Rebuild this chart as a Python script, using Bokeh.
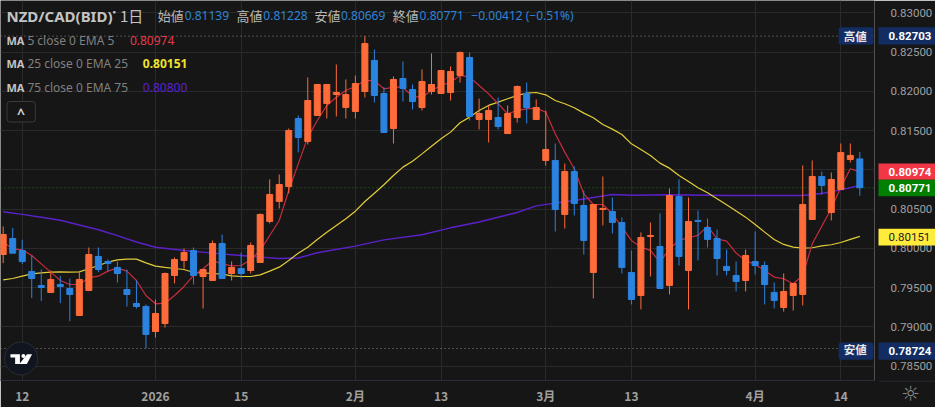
from bokeh.plotting import figure
from bokeh.layouts import column
from bokeh.core.properties import value
from bokeh.models import (ColumnDataSource, FixedTicker, Span, Label, BoxAnnotation, NumeralTickFormatter)
from bokeh.embed import file_html
from bokeh.resources import INLINE

opens = [.79921,.80125,.79972,.79705,.79526,.79437,.79539,.79488,.79144,.79463,.79896,.79832,.79756,.79475,.79297,.79259,.7894,.79042,.79654,.79845,.79972,.79641,.7959,.80061,.79679,.79743,.79717,.79819,.80342,.80597,
 .80787,.81654,.81361,.81692,.81845,.81959,.81794,.81743,.81998,.82393,.81972,.81526,.82163,.82023,.81794,.81998,.81972,.81985,.82202,.82431,.81641,.81641,.81666,.81462,.81666,.81972,.81641,.81119,.81119,.80431,
 .80978,.80546,.79692,.80494,.80469,.80329,.79692,.79399,.80151,.80023,.79527,.8066,.79718,.80355,.80265,.80125,.79769,.79654,.7959,.79832,.79781,.79438,.79246,.79399,.79412,.80367,.80915,.80456,.80749,.81132,.81139]
highs = [.80278,.80261,.80108,.79908,.7973,.79717,.79649,.79615,.79696,.8001,.8001,.79857,.79832,.7973,.7959,.79284,.79348,.79692,.79883,.79998,.8001,.7973,.80099,.80176,.79832,.79947,.80074,.80443,.80877,.8094,
 .81526,.81692,.82176,.82087,.82087,.82342,.82151,.82202,.82703,.82533,.82053,.82189,.8238,.82087,.82278,.82482,.82265,.82316,.82507,.82494,.81908,.81819,.81921,.81819,.82074,.82112,.81896,.81756,.81335,.8108,
 .81042,.80737,.80558,.80915,.80647,.80393,.79972,.80202,.80329,.80444,.80762,.80877,.80647,.80482,.8038,.8024,.79985,.79832,.79985,.80214,.79832,.79565,.7968,.79552,.81055,.81119,.80978,.80966,.81335,.81335,.81228]
lows = [.79811,.79938,.79798,.79365,.79327,.79437,.79301,.79072,.79144,.79454,.79696,.79709,.79564,.79259,.79233,.78724,.78864,.78991,.79552,.79743,.79539,.79233,.7959,.79615,.7959,.79615,.79679,.79819,.80316,.80507,
 .80698,.81221,.81323,.81692,.81654,.8168,.81654,.81654,.81921,.81858,.81475,.81335,.8187,.81768,.81756,.81959,.81972,.81883,.82112,.81628,.81514,.81348,.81514,.81462,.81602,.8159,.81641,.81055,.80214,.80252,
 .80418,.79921,.79361,.80291,.80189,.79679,.79285,.79221,.79641,.79488,.79412,.79781,.79221,.79845,.8001,.79654,.79654,.7945,.7945,.79667,.79285,.79234,.79195,.79208,.79272,.80367,.80686,.80355,.80749,.81093,.80669]
closes = [.80176,.79938,.79832,.79615,.79501,.79603,.79514,.79412,.79603,.79921,.7973,.79807,.79679,.79412,.79259,.78902,.7917,.79679,.79857,.79947,.79654,.7973,.80061,.79615,.79756,.79679,.80036,.80431,.80686,.80813,
 .81501,.81412,.81883,.82087,.82087,.81985,.81959,.82099,.82609,.81947,.81475,.82151,.82035,.8187,.82125,.82087,.82265,.82252,.82494,.8168,.81717,.81756,.81551,.81717,.82061,.81794,.81794,.81259,.80494,.80978,
 .80571,.801,.80558,.80507,.80329,.79756,.79348,.80138,.80163,.79488,.80673,.79896,.80342,.80342,.80113,.7987,.79718,.79578,.79909,.79781,.79539,.79336,.7945,.79552,.80558,.80915,.80801,.80877,.81221,.81183,.80771]
ema5 = [.80078,.79993,.79981,.79908,.79802,.79696,.7959,.79539,.79539,.79624,.79645,.79709,.79747,.79709,.7959,.79399,.79293,.79301,.79399,.79514,.79654,.79739,.79845,.79802,.79777,.79781,.79853,.79972,.80163,.80354,
 .80737,.81076,.81416,.81628,.81819,.81925,.8201,.82061,.82137,.82137,.82031,.82052,.82052,.81933,.81925,.8201,.82074,.82116,.82202,.8218,.82074,.81967,.81841,.81713,.81756,.81777,.81785,.81734,.81459,.81225,
 .81013,.80694,.80558,.80558,.8044,.8027,.801,.80015,.79973,.79824,.79994,.801,.80134,.80164,.80283,.80121,.80091,.79939,.79845,.79794,.79718,.79633,.79612,.79548,.79654,.80057,.8028,.80503,.80779,.81013,.80974]
ema25 = [.79598,.79615,.79645,.79675,.79688,.79696,.797,.79696,.797,.79739,.79781,.79823,.79853,.79862,.79862,.79815,.79773,.79756,.79743,.7973,.79692,.79688,.79679,.79671,.79649,.79641,.79641,.79662,.79709,.7976,
 .79845,.79938,.80014,.80112,.80205,.8029,.80376,.80473,.80596,.80702,.80809,.80928,.81034,.8111,.81203,.81301,.81395,.8148,.81599,.81671,.81755,.8182,.81862,.81905,.81947,.81977,.81985,.81955,.81883,.81841,
 .8179,.81722,.81662,.81578,.81518,.8145,.81331,.81259,.81183,.81085,.81021,.80928,.80851,.80771,.80707,.80631,.80554,.80474,.80397,.80304,.80206,.80113,.80049,.80015,.80002,.80007,.8003,.80045,.80074,.80113,.80151]
ema75_idx = [0,2,4,6,8,10,12,14,16,19,22,25,27,29,31,33,37,40,44,47,50,52,54,56,58,60,62,64,66,70,76,82,84,86,88,90]
ema75 = [.80465,.80432,.80395,.80358,.80297,.80236,.80161,.8008,.80014,.79972,.79938,.79908,.79887,.7987,.79876,.79943,.80027,.80108,.80172,.80261,.80335,.80396,.80456,.80541,.80575,.80609,.80647,.80685,.80676,.80682,.80673,.80673,.80673,.80698,.80745,.808]
price_ticks = [.785,.79,.795,.80,.805,.81,.815,.82,.825,.83]
date_ticks = {2:"12",16:"2026",25:"15",37:"2月",46:"13",57:"3月",66:"13",79:"4月",88:"14"}
tag_prices = ["0.82703","0.78724","0.80974","0.80771"]
tag_colors = ["#132d63","#132d63","#f23645","#008000","#ffeb3b"]

BG="#161616"; GRID="#2a2a2a"; UP="#ff6b39"; DOWN="#2b83e0"
xl,xr=-0.2824,91.54; yt,yb=.831567,.783159
X=lambda px: xl+px/878*(xr-xl)
Y=lambda py: yt-py/380*(yt-yb)

p=figure(width=935,height=407,x_range=(xl,xr),y_range=(yb,yt),output_backend="svg",toolbar_location=None,
         y_axis_location="right",background_fill_color=BG,border_fill_color=BG,outline_line_color=None,
         min_border_left=0,min_border_top=0,min_border_right=57,min_border_bottom=27)
p.frame_align=False

ya=p.yaxis[0]; ya.ticker=FixedTicker(ticks=price_ticks); ya.formatter=NumeralTickFormatter(format="0.00000")
ya.axis_line_color=None; ya.major_tick_line_color=None; ya.minor_tick_line_color=None
ya.major_label_text_color="#a0a0a0"; ya.major_label_text_font="Roboto"; ya.major_label_text_font_size="11.5px"; ya.major_label_standoff=10
xa=p.xaxis[0]; xa.ticker=FixedTicker(ticks=list(date_ticks)); xa.major_label_overrides=dict(date_ticks)
xa.axis_line_color="#2a2e39"; xa.major_tick_line_color=None; xa.minor_tick_line_color=None
xa.major_label_text_color="#a0a0a0"; xa.major_label_text_font="Noto Sans CJK JP"; xa.major_label_text_font_size="12px"; xa.major_label_text_font_style="bold"; xa.major_label_standoff=0
p.xgrid.ticker=FixedTicker(ticks=list(date_ticks)); p.ygrid.ticker=FixedTicker(ticks=price_ticks)
p.xgrid.grid_line_color=GRID; p.ygrid.grid_line_color=GRID

for loc,col in [(.82703,"#8c8c8c"),(.78724,"#8c8c8c"),(closes[-1],"#0c7c0c")]:
    p.add_layout(Span(location=loc,dimension="width",line_color=col,line_dash="1 3",line_width=1,level="underlay"))

xs=list(range(len(closes)))
p.line(ema75_idx,ema75,line_color="#5b21c9",line_width=1.4)
p.line(xs,ema25,line_color="#e2cd3a",line_width=1.2)
p.line(xs,ema5,line_color="#c92c3e",line_width=1.2)

colors=[UP if c>=o else DOWN for o,c in zip(opens,closes)]
src=ColumnDataSource(dict(x=xs,o=opens,h=highs,l=lows,c=closes,col=colors,
    top=[max(a,b) for a,b in zip(opens,closes)],bot=[min(a,b) for a,b in zip(opens,closes)]))
p.segment("x","h","x","l",source=src,line_color="col",line_width=1)
p.vbar(x="x",top="top",bottom="bot",width=0.63,source=src,fill_color="col",line_color="col",line_width=1)

def box(l,r,t,b,fill,line=None,radius=0):
    p.add_layout(BoxAnnotation(left=X(l),right=X(r),top=Y(t),bottom=Y(b),fill_color=fill,fill_alpha=1 if fill else 0,
                 line_color=line,line_alpha=1 if line else 0,border_radius=radius))
def lab(px,py,text,color,font="Noto Sans",size="12px",style="normal",align="left"):
    p.add_layout(Label(x=X(px),y=Y(py),text=text,text_color=color,text_font=font,text_font_size=size,
                 text_font_style=style,text_baseline="middle",text_align=align))

KJ="Noto Sans CJK JP"; VAL="#2d84d6"; HD="#c4c4c4"
lab(6,15,"NZD/CAD(BID)",HD,size="15px",style="bold")
lab(111,11,"･",HD,font=KJ,size="13px",style="bold")
lab(120,15,"1日",HD,font=KJ,size="15px")
header=[(158,"始値",185,"0.81139"),(237,"高値",264,"0.81228"),(315.5,"安値",342,"0.80669"),(394,"終値",421,"0.80771")]
for kx,kt,vx,vt in header:
    lab(kx,15,kt,"#b8b8b8",font=KJ,size="13px"); lab(vx,15,vt,VAL)
lab(473,15,"−0.00412 (−0.51%)",VAL)
for py,name,vx,vt,col,st in [(40,"5 close 0 EMA 5",130,"0.80974","#e23a4a","normal"),(63,"25 close 0 EMA 25",143,"0.80151","#f2e22e","bold"),(87,"75 close 0 EMA 75",143,"0.80800","#5a22d6","normal")]:
    lab(6,py,"MA","#c4c4c4",size="11px",style="bold"); lab(27,py,name,"#808080"); lab(vx,py,vt,col,style=st)

box(6.5,35,101,121.5,BG,"#3a3a3a",3)
lab(20.5,113,"^","#d0d0d0",size="14px",style="bold",align="center")

box(842,877,26.7,44,"#132d63",None,2)
box(842,877,342,359.3,"#132d63",None,2)
lab(847,35.4,"高値","#e8e8e8",font=KJ,size="11.5px",style="bold")
lab(847,348.5,"安値","#e8e8e8",font=KJ,size="11.5px",style="bold")

# logo
p.scatter([X(20.7)],[Y(358)],size=33,fill_color="#111520",line_color="#2a2e39",line_width=1)
p.patch([X(v) for v in (10,19.5,19.5,14.7,14.7,10)],[Y(v) for v in (353.7,353.7,363.5,363.5,357,357)],fill_color="#ffffff",line_color=None)
p.patch([X(v) for v in (26.7,31.7,26.5,19)],[Y(v) for v in (353.7,353.7,363.5,363.5)],fill_color="#ffffff",line_color=None)
p.scatter([X(23)],[Y(355.5)],size=4,fill_color="#ffffff",line_color=None)

# transparent overlay for the price tags on the axis column (pixel ranges)
o=figure(width=935,height=407,x_range=(0,935),y_range=(407,0),output_backend="svg",toolbar_location=None,
         x_axis_type=None,y_axis_type=None,background_fill_color=None,border_fill_color=None,outline_line_color=None,
         min_border_left=0,min_border_right=0,min_border_top=0,min_border_bottom=0)
o.frame_align=False
o.xgrid.visible=False; o.ygrid.visible=False
o.styles={"position":"absolute","left":"0px","top":"0px","z-index":"10","pointer-events":"none"}
tag_top=[26.7,342,163,179.3,228.3]; tag_bot=[44,359.3,179.3,195.7,245]
o.quad(left=878,right=935,top=tag_top,bottom=tag_bot,fill_color=tag_colors,line_color=None)
o.quad(left=878,right=935,top=[380.2],bottom=[381],fill_color="#2a2e39",line_color=None)
o.text(x=[888]*4,y=[(a+b)/2 for a,b in zip(tag_top[:4],tag_bot[:4])],text=tag_prices,text_color="#ffffff",
       text_font=value("Roboto"),text_font_size=value("11.5px"),text_font_style="bold",text_baseline="middle")
o.text(x=[888],y=[(tag_top[4]+tag_bot[4])/2],text=["0.80151"],text_color="#222222",
       text_font=value("Roboto"),text_font_size=value("11.5px"),text_baseline="middle")
o.text(x=[910],y=[393],text=["☼"],text_color="#8a8a8a",text_font=value("DejaVu Sans"),text_font_size=value("21px"),text_baseline="middle",text_align="center")

root=column(p,o,spacing=0)
open("out.html","w").write(file_html(root,INLINE))
